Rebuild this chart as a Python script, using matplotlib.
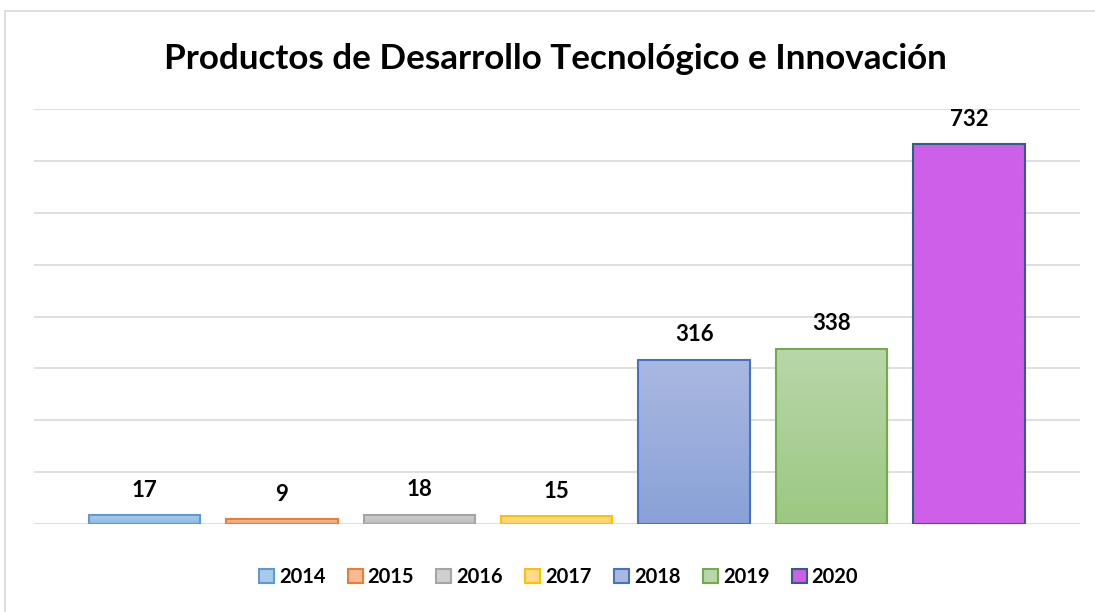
import numpy as np
import matplotlib.pyplot as plt
from matplotlib.colors import LinearSegmentedColormap
from matplotlib.lines import Line2D
from matplotlib.patches import Patch

# datos
years = ['2014', '2015', '2016', '2017', '2018', '2019', '2020']
values = [17, 9, 18, 15, 316, 338, 732]

# colores (arriba, abajo, borde)
top_colors = ['#A9CBEB', '#F6BA97', '#CFCFCF', '#FFDB8A', '#AAB8E0', '#B9D7AA', '#CE5FE8']
bottom_colors = ['#8FB8E3', '#F2A479', '#BDBDBD', '#FFD06B', '#89A1D8', '#9BC882', '#CE5FE8']
edge_colors = ['#5B9BD5', '#ED7D31', '#A5A5A5', '#FFC000', '#4472C4', '#70AD47', '#2F5E8E']

plt.rcParams['font.family'] = ['Lato', 'DejaVu Sans']

fig = plt.figure(figsize=(10.95, 6.12), dpi=100)
ax = fig.add_axes([34 / 1095, 88 / 612, 1046 / 1095, 415 / 612])

x = np.arange(len(years))
bars = ax.bar(x, values, width=0.81, color='none', edgecolor=edge_colors,
              linewidth=1.5, zorder=3)

# degradado vertical dentro de cada barra
for b, c1, c2 in zip(bars, top_colors, bottom_colors):
    cmap = LinearSegmentedColormap.from_list('g', [c2, c1])
    grad = np.linspace(0, 1, 256).reshape(-1, 1)
    x0, y0 = b.get_x(), b.get_y()
    im = ax.imshow(grad, cmap=cmap, aspect='auto', origin='lower',
                   extent=[x0, x0 + b.get_width(), y0, y0 + b.get_height()],
                   zorder=2)
    im.set_clip_path(b)

for xi, v in zip(x, values):
    ax.annotate(str(v), (xi, v), xytext=(0, 10.5), textcoords='offset points',
                ha='center', va='bottom', fontsize=16, fontweight='bold')

ax.set_xlim(-0.804, 6.808)
ax.set_ylim(0, 800)
ax.set_yticks(np.arange(0, 801, 100))
ax.yaxis.grid(True, color='#D9D9D9', linewidth=1.2, zorder=0)
ax.set_axisbelow(True)
ax.tick_params(left=False, bottom=False, labelleft=False, labelbottom=False)
for s in ax.spines.values():
    s.set_visible(False)

fig.text(0.507, 0.904, 'Productos de Desarrollo Tecnológico e Innovación',
         ha='center', va='center', fontsize=25.2, fontweight='bold')

handles = [Patch(facecolor=t, edgecolor=e, linewidth=1.5) for t, e in zip(top_colors, edge_colors)]
fig.legend(handles, years, loc='center', bbox_to_anchor=(0.51, 0.057), ncol=7,
           frameon=False, prop={'weight': 'bold', 'size': 14.5},
           handlelength=0.75, handleheight=0.75, handletextpad=0.25, columnspacing=1.1)

# borde del grafico (solo izquierda y arriba visibles)
fig.add_artist(Line2D([5 / 1095, 5 / 1095], [0, 601 / 612], color='#D9D9D9', lw=1.2))
fig.add_artist(Line2D([5 / 1095, 1], [601 / 612, 601 / 612], color='#D9D9D9', lw=1.2))

fig.savefig('out.png', dpi=100, facecolor='white')
